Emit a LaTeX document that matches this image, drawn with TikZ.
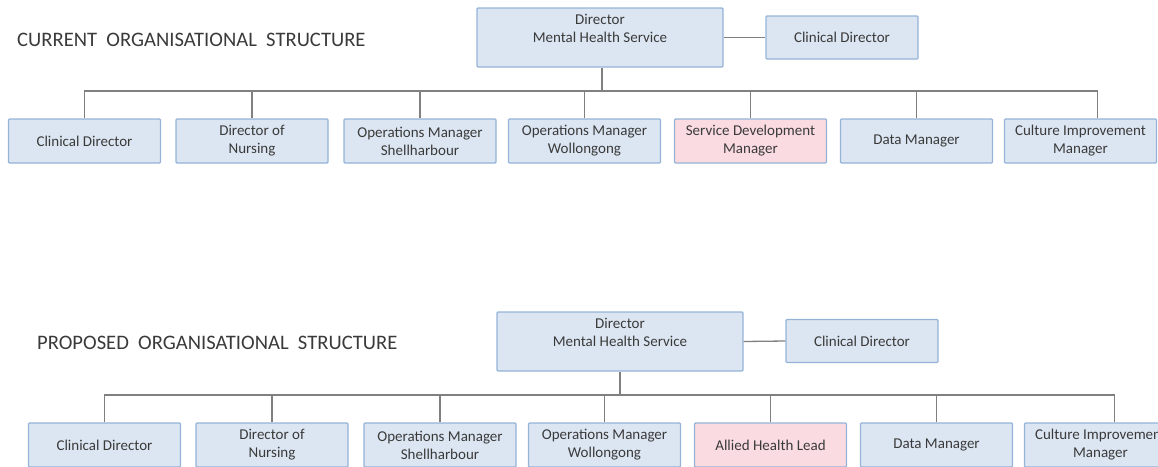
\documentclass[tikz,border=0pt]{standalone}
\usepackage{fontspec}
\setmainfont{Carlito}
\usetikzlibrary{positioning}
\definecolor{orgblue}{HTML}{DCE6F2}
\definecolor{orgbluedark}{HTML}{95B3D7}
\definecolor{orgpink}{HTML}{FADBE1}
\definecolor{orggrey}{HTML}{808080}
\definecolor{orgtext}{HTML}{3A3A3A}
\tikzset{
  orgbox/.style={draw=orgbluedark, fill=orgblue, line width=1.2pt, rounded corners=1pt, align=center,
                 text=orgtext, font=\fontsize{15}{18}\selectfont, inner sep=2pt,
                 minimum width=152, minimum height=44},
  orgboxpink/.style={orgbox, fill=orgpink},
  orgboxtop/.style={orgbox, minimum width=246, minimum height=59},
  orgline/.style={draw=orggrey, line width=1.3pt},
  orgtitle/.style={anchor=west, inner sep=0pt, text=orgtext, font=\fontsize{20.6}{24}\selectfont},
}

\begin{document}
\begin{tikzpicture}[x=1pt, y=-1pt]
        \useasboundingbox (0,0) rectangle (1158,466);
        \clip (0,0) rectangle (1158,466);
        % ---------------- current ----------------
        \node[orgtitle] (ctitle) at (17,40) {CURRENT\ \ ORGANISATIONAL\ \ STRUCTURE};
        \node[orgboxtop] (c0) at (600,37.5) {Director\\ Mental Health Service\\ \mbox{}};
        \node[orgbox, minimum height=43] (cc) at (842,37.5) {Clinical Director};
        \coordinate (cbus) at (602,91);
        \node[orgbox] (c1) at (84.5,141) {Clinical Director};
        \node[orgbox] (c2) at (252,141) {Director of\\ Nursing};
        \node[orgbox] (c3) at (420,141) {Operations Manager\\ Shellharbour};
        \node[orgbox] (c4) at (584.5,141) {Operations Manager\\ Wollongong};
        \node[orgboxpink] (c5) at (750.5,141) {Service Development\\ Manager};
        \node[orgbox] (c6) at (916.5,141) {Data Manager};
        \node[orgbox] (c7) at (1080.5,141) {Culture Improvement\\ Manager};
        % ---------------- proposed ----------------
        \node[orgtitle] (ptitle) at (37,343) {PROPOSED\ \ ORGANISATIONAL\ \ STRUCTURE};
        \node[orgboxtop] (p0) at (620,341.5) {Director\\ Mental Health Service\\ \mbox{}};
        \node[orgbox, minimum height=43] (pc) at (862,341) {Clinical Director};
        \coordinate (pbus) at (620,395);
        \node[orgbox] (p1) at (104.5,445) {Clinical Director};
        \node[orgbox] (p2) at (272,445) {Director of\\ Nursing};
        \node[orgbox] (p3) at (440,445) {Operations Manager\\ Shellharbour};
        \node[orgbox] (p4) at (604.5,445) {Operations Manager\\ Wollongong};
        \node[orgboxpink] (p5) at (770.5,445) {Allied Health Lead};
        \node[orgbox] (p6) at (936.5,445) {Data Manager};
        \node[orgbox] (p7) at (1100.5,445) {Culture Improvement\\ Manager};
        % ---------------- lines ----------------
        \draw[orgline] (c0.east) -- (cc.west);
        \draw[orgline] (c0.south -| cbus) -- (cbus);
        \foreach \n in {c1,c2,c3,c4,c5,c6} {\draw[orgline] (\n.north) |- (cbus);}
        \draw[orgline] ([xshift=17]c7.north) |- (cbus);
        \draw[orgline] (p0.east) -- (pc.west);
        \draw[orgline] (p0.south) -- (pbus);
        \foreach \n in {p1,p2,p3,p4,p5,p6} {\draw[orgline] (\n.north) |- (pbus);}
        \draw[orgline] ([xshift=14]p7.north) |- (pbus);
    \end{tikzpicture}
\end{document}
